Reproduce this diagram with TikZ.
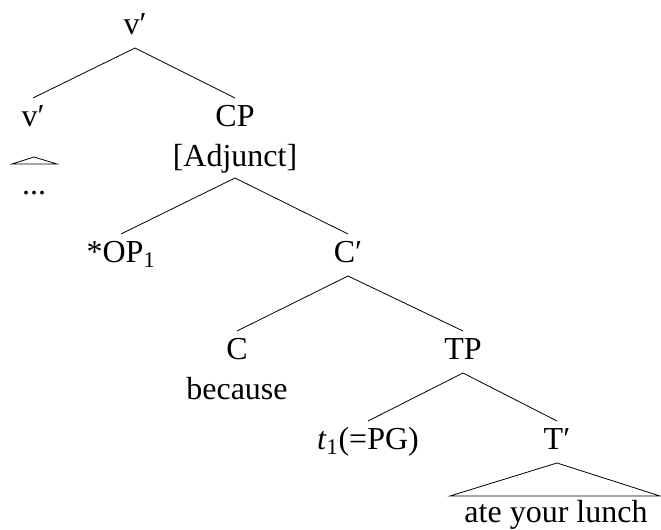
\documentclass[tikz,border=0pt]{standalone}
\usepackage{fontspec}
\setmainfont{Liberation Serif}
\begin{document}
\begin{tikzpicture}[x=0.75pt,y=-0.75pt,
  lab/.style={anchor=base, inner sep=0pt, outer xsep=0pt, outer ysep=6pt,
    text height=15.75pt, text depth=3.75pt, font=\fontsize{24}{29}\selectfont},
  plain/.style={anchor=base, inner sep=0pt, font=\fontsize{24}{29}\selectfont},
  edge/.style={line width=0.6pt, line join=miter}]
\useasboundingbox (0,0) rectangle (661,530);
% nodes
\node[lab] (v0) at (135,35) {v′};
\node[lab] (v1) at (33,127) {v′};
\node[lab] (cp) at (235,127) {CP};
\node[plain] (adj) at (235,167) {[Adjunct]};
\coordinate (adjs) at (235,178);
\coordinate (tri) at (34,157);
\node[plain] (dots) at (34,195) {...};
\node[lab] (op) at (121,263) {*OP\textsubscript{1}};
\node[lab] (cb) at (348,263) {C′};
\node[lab] (c) at (237,360) {C};
\node[plain] (bec) at (237,400) {because};
\node[lab] (tp) at (463,360) {TP};
\node[lab] (t) at (368,450) {\textit{t}\textsubscript{1}(=PG)};
\node[lab] (tb) at (557,450) {T′};
\coordinate (bl) at (450,496);
\coordinate (br) at (660,496);
\node[plain] (ate) at (556,523) {ate your lunch};
% edges
\draw[edge] (v1.north) -- (v0.south) -- (cp.north);
\draw[edge] (op.north) -- (adjs) -- (cb.north);
\draw[edge] (c.north) -- (cb.south) -- (tp.north);
\draw[edge] (t.north) -- (tp.south) -- (tb.north);
\draw[edge] (tb.south) -- (bl) -- (br) -- cycle;
\draw[edge] (tri) -- ++(-22,7) -- ++(45,0) -- cycle;
\end{tikzpicture}
\end{document}
